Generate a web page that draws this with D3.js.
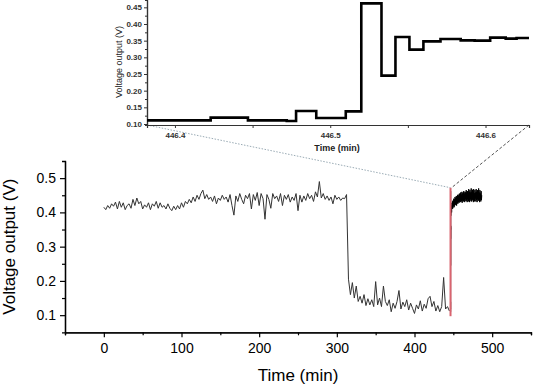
<!DOCTYPE html>
<html>
<head>
<meta charset="utf-8">
<script src="https://cdn.jsdelivr.net/npm/d3@7"></script>
<style>
  body { margin: 0; background: #fff; }
  svg { display: block; font-family: Arial, "Liberation Sans", sans-serif; }
</style>
</head>
<body>
<svg></svg>
<script>
var width = 534,
    height = 387;

var svg = d3.select("svg")
    .attr("width", width)
    .attr("height", height);

// Slow log, one reading every 2.5 min starting at t = 0.
var LOG_START = 0, LOG_STEP = 2.5;
var logVolts = [
  0.415,0.408,0.420,0.412,0.425,0.418,0.430,0.410,0.432,0.415,
  0.428,0.408,0.420,0.425,0.412,0.438,0.420,0.442,0.425,0.432,
  0.410,0.422,0.415,0.428,0.408,0.425,0.418,0.432,0.412,0.428,
  0.415,0.420,0.410,0.425,0.412,0.405,0.418,0.408,0.420,0.410,
  0.428,0.415,0.432,0.425,0.438,0.428,0.445,0.432,0.450,0.438,
  0.455,0.465,0.440,0.452,0.438,0.445,0.432,0.448,0.425,0.442,
  0.435,0.450,0.438,0.445,0.430,0.452,0.420,0.392,0.448,0.432,
  0.455,0.438,0.425,0.450,0.440,0.455,0.410,0.452,0.435,0.458,
  0.420,0.455,0.440,0.380,0.452,0.438,0.412,0.455,0.440,0.448,
  0.432,0.455,0.420,0.450,0.438,0.452,0.430,0.445,0.435,0.455,
  0.405,0.450,0.430,0.448,0.435,0.455,0.440,0.450,0.432,0.460,
  0.445,0.490,0.442,0.455,0.438,0.448,0.435,0.445,0.425,0.450,
  0.438,0.445,0.435,0.442,0.440,0.452,0.205,0.160,0.195,0.150,
  0.185,0.140,0.155,0.135,0.160,0.128,0.148,0.130,0.145,0.125,
  0.198,0.130,0.150,0.125,0.185,0.140,0.128,0.145,0.110,0.135,
  0.120,0.140,0.172,0.118,0.138,0.125,0.145,0.115,0.135,0.120,
  0.105,0.130,0.118,0.142,0.112,0.132,0.120,0.148,0.155,0.125,
  0.140,0.112,0.128,0.110,0.125,0.210,0.118,0.125,0.112
];

// Zoomed-in switching event (shown in the inset), step-wise samples.
var stepTimes = [446.382, 446.423, 446.447, 446.472, 446.478, 446.491, 446.510,
                 446.520, 446.533, 446.542, 446.551, 446.560, 446.571, 446.584,
                 446.593, 446.603, 446.613, 446.620, 446.628];
var stepVolts = [0.111, 0.119, 0.111, 0.109, 0.139, 0.118, 0.138,
                 0.462, 0.245, 0.361, 0.323, 0.348, 0.355, 0.351,
                 0.350, 0.359, 0.356, 0.358, 0.358];

// Fast log after the switch, one reading every 0.4 min from t = 447.
var FAST_START = 447, FAST_STEP = 0.4;
var fastVolts = [
  0.390,0.420,0.400,0.428,0.410,0.432,0.412,0.435,0.418,0.440,
  0.415,0.438,0.420,0.445,0.422,0.442,0.425,0.448,0.420,0.445,
  0.428,0.450,0.425,0.452,0.430,0.448,0.428,0.455,0.432,0.450,
  0.430,0.458,0.435,0.452,0.432,0.460,0.428,0.455,0.435,0.458,
  0.432,0.462,0.436,0.455,0.430,0.460,0.438,0.458,0.433,0.465,
  0.435,0.458,0.430,0.462,0.438,0.455,0.432,0.468,0.436,0.460,
  0.430,0.465,0.438,0.458,0.434,0.470,0.432,0.460,0.438,0.466,
  0.435,0.460,0.430,0.468,0.438,0.456,0.432,0.465,0.440,0.458,
  0.432,0.468,0.436,0.460,0.430,0.465,0.438,0.456,0.434,0.470,
  0.436,0.458,0.430,0.465,0.438,0.455,0.432,0.462,0.436,0.450
];

var mainXTicks = [0, 100, 200, 300, 400, 500];
var mainYTicks = [0.1, 0.2, 0.3, 0.4, 0.5];
var insetXTicks = [446.4, 446.5, 446.6];
var insetYTicks = [0.10, 0.15, 0.20, 0.25, 0.30, 0.35, 0.40, 0.45];

var logData = logVolts.map(function (v, i) { return { t: LOG_START + i * LOG_STEP, v: v }; });
var stepData = stepTimes.map(function (t, i) { return { t: t, v: stepVolts[i] }; });
var fastData = fastVolts.map(function (v, i) { return { t: FAST_START + i * FAST_STEP, v: v }; });

// ---- main chart ----
var x = d3.scaleLinear().domain([-50, 550]).range([65, 531]);
var y = d3.scaleLinear().domain([0.05, 0.55]).range([332.3, 161]);

var line = d3.line()
    .x(function (d) { return x(d.t); })
    .y(function (d) { return y(d.v); });

var xAxisG = svg.append("g")
    .attr("transform", "translate(0," + y(0.05) + ")")
    .call(d3.axisBottom(x).tickValues(mainXTicks).tickSize(5).tickSizeOuter(0).tickPadding(6));
svg.append("g")
    .attr("transform", "translate(0," + y(0.05) + ")")
    .call(d3.axisBottom(x).tickValues(d3.range(-50, 551, 100)).tickSize(3).tickFormat(""));

var yAxisG = svg.append("g")
    .attr("transform", "translate(" + x(-50) + ",0)")
    .call(d3.axisLeft(y).tickValues(mainYTicks).tickSize(5).tickSizeOuter(0).tickPadding(4)
      .tickFormat(d3.format(".1f")));
svg.append("g")
    .attr("transform", "translate(" + x(-50) + ",0)")
    .call(d3.axisLeft(y).tickValues([0.15, 0.25, 0.35, 0.45]).tickSize(3).tickFormat(""));

svg.selectAll(".domain").attr("stroke", "#000").attr("stroke-width", 1.3);
svg.selectAll(".tick line").attr("stroke", "#000").attr("stroke-width", 1.2);
xAxisG.selectAll("text").attr("font-size", 14).attr("fill", "#000");
yAxisG.selectAll("text").attr("font-size", 14).attr("fill", "#000");

svg.append("text")
    .attr("x", (x(-50) + x(550)) / 2)
    .attr("y", 381)
    .attr("text-anchor", "middle")
    .attr("font-size", 17)
    .text("Time (min)");

svg.append("text")
    .attr("transform", "translate(15," + (y(0.3)) + ") rotate(-90)")
    .attr("text-anchor", "middle")
    .attr("font-size", 17)
    .text("Voltage output (V)");

svg.append("path")
    .datum(logData)
    .attr("fill", "none")
    .attr("stroke", "#333")
    .attr("stroke-width", 1)
    .attr("d", line);

svg.append("path")
    .datum(stepData)
    .attr("fill", "none")
    .attr("stroke", "#111")
    .attr("stroke-width", 1)
    .attr("d", line);

svg.append("path")
    .datum(fastData)
    .attr("fill", "none")
    .attr("stroke", "#000")
    .attr("stroke-width", 1)
    .attr("d", line);

// ---- inset ----
var ix = d3.scaleLinear().domain([446.382, 446.628]).range([147, 529]);
var iy = d3.scaleLinear().domain([0.097, 0.472]).range([125, 0]);

// zoom window marked on the main chart
var zx0 = x(ix.domain()[0]), zy0 = y(iy.domain()[1]), zy1 = y(iy.domain()[0]);
svg.append("line")
    .attr("x1", zx0).attr("x2", zx0)
    .attr("y1", zy0).attr("y2", zy1)
    .attr("stroke", "#d9646f")
    .attr("stroke-width", 2);

// connector lines from the inset to the zoom window
svg.append("line")
    .attr("x1", ix.range()[0]).attr("y1", iy(iy.domain()[0]))
    .attr("x2", zx0).attr("y2", zy0)
    .attr("stroke", "#9aabb5")
    .attr("stroke-width", 1)
    .attr("stroke-dasharray", "1.5,1.5");
svg.append("line")
    .attr("x1", ix.range()[1]).attr("y1", iy(iy.domain()[0]))
    .attr("x2", zx0 + 1).attr("y2", zy0)
    .attr("stroke", "#555")
    .attr("stroke-width", 1)
    .attr("stroke-dasharray", "3,2");

var inset = svg.append("g");

var ixAxis = inset.append("g")
    .attr("transform", "translate(0," + iy(iy.domain()[0]) + ")")
    .call(d3.axisBottom(ix).tickValues(insetXTicks).tickSize(3).tickSizeOuter(0).tickPadding(4)
      .tickFormat(d3.format(".1f")));
inset.append("g")
    .attr("transform", "translate(0," + iy(iy.domain()[0]) + ")")
    .call(d3.axisBottom(ix).tickValues([446.45, 446.55]).tickSize(3).tickFormat(""));

var iyAxis = inset.append("g")
    .attr("transform", "translate(" + ix.range()[0] + ",0)")
    .call(d3.axisLeft(iy).tickValues(insetYTicks).tickSize(3).tickSizeOuter(0).tickPadding(2)
      .tickFormat(d3.format(".2f")));
inset.append("g")
    .attr("transform", "translate(" + ix.range()[0] + ",0)")
    .call(d3.axisLeft(iy).tickValues([0.125, 0.175, 0.225, 0.275, 0.325, 0.375, 0.425]).tickSize(2).tickFormat(""));

inset.selectAll(".domain").attr("stroke", "#333").attr("stroke-width", 1.2);
inset.selectAll(".tick line").attr("stroke", "#333").attr("stroke-width", 1);
ixAxis.selectAll("text").attr("font-size", 8).attr("font-weight", "bold").attr("fill", "#333");
iyAxis.selectAll("text").attr("font-size", 8).attr("font-weight", "bold").attr("fill", "#333");

inset.append("text")
    .attr("x", 337)
    .attr("y", 151)
    .attr("text-anchor", "middle")
    .attr("font-size", 9)
    .attr("font-weight", "bold")
    .attr("fill", "#222")
    .text("Time (min)");

inset.append("text")
    .attr("transform", "translate(122,62) rotate(-90)")
    .attr("text-anchor", "middle")
    .attr("font-size", 9)
    .attr("fill", "#222")
    .text("Voltage output (V)");

inset.append("path")
    .datum(stepData)
    .attr("fill", "none")
    .attr("stroke", "#000")
    .attr("stroke-width", 2.6)
    .attr("d", d3.line()
      .curve(d3.curveStepAfter)
      .x(function (d) { return ix(d.t); })
      .y(function (d) { return iy(d.v); }));
</script>
</body>
</html>
